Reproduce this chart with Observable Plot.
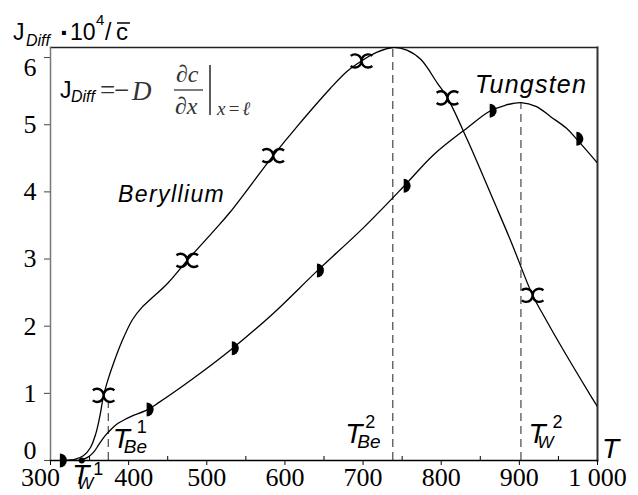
<!DOCTYPE html>
<html><head><meta charset="utf-8">
<script src="https://cdn.jsdelivr.net/npm/d3@7"></script>
<script src="https://cdn.jsdelivr.net/npm/@observablehq/plot@0.6"></script>
<style>html,body{margin:0;padding:0;background:#fff;}</style>
</head><body><div id="chart"></div>
<script>
// ---------- data ----------
const berylliumCurveT = [319,332,342,351,358,363,368,374,381,392,405,417,428,450,475,509,530,585,616,658,680,698,718,738,756,774,795,808,834,867,889,917,931,957,991,1000];
const berylliumCurveJ = [0.00,0.02,0.07,0.19,0.40,0.65,0.97,1.22,1.46,1.79,2.10,2.28,2.40,2.64,2.98,3.42,3.70,4.54,4.98,5.54,5.80,5.95,6.08,6.15,6.11,5.97,5.62,5.40,4.76,3.87,3.27,2.46,2.16,1.63,0.97,0.80];
const berylliumMarkT = [368,475,585,698,808,917];
const berylliumMarkJ = [0.97,2.98,4.54,5.95,5.40,2.46];

const tungstenCurveT = [312,325,340,348,355,362,370,378,386,395,404,423,437,479,532,585,641,700,752,790,834,862,882,902,922,940,960,973,1000];
const tungstenCurveJ = [0.00,0.00,0.01,0.05,0.12,0.24,0.37,0.47,0.55,0.61,0.66,0.75,0.85,1.19,1.66,2.19,2.82,3.46,4.08,4.55,4.96,5.20,5.29,5.33,5.27,5.12,4.95,4.79,4.43];
const tungstenMarkT = [312,423,532,641,752,862,973];
const tungstenMarkJ = [0.00,0.76,1.67,2.83,4.09,5.21,4.79];

const tBe1 = 374, tBe2 = 738, tW1 = 340, tW2 = 902;
const dashedT = [tBe1, tBe2, tW2];
const dashedTop = [0.85, 6.15, 5.33];

const xTicks = [300,400,500,600,700,800,900,1000];
const xTickLabels = ["300","400","500","600","700","800","900","1 000"];
const xMinorTicks = [350,450,550,650,750,850,950];
const yTicks = [0,1,2,3,4,5,6];
const yTickLabels = ["0","1","2","3","4","5","6"];
const xDomain = [300, 1000];
const yDomain = [0, 6.15];

// ---------- styles ----------
const SANS = "'Liberation Sans', Arial, sans-serif";
const SERIF = "'Liberation Serif', 'Times New Roman', serif";
const ns = "http://www.w3.org/2000/svg";
const W = 638, H = 495, M = {left: 50, right: 41, top: 47, bottom: 35};

// custom symbols
const doubleArc = {draw(ctx, size) {
  const r = Math.sqrt(size / Math.PI), a = Math.PI * 0.72;
  ctx.moveTo(-r + r * Math.cos(-a), r * Math.sin(-a));
  ctx.arc(-r, 0, r, -a, a, false);
  const b = Math.PI - a;
  ctx.moveTo(r + r * Math.cos(b), r * Math.sin(b));
  ctx.arc(r, 0, r, b, 2 * Math.PI - b, false);
}};
const halfDisc = {draw(ctx, size) {
  const r = Math.sqrt(size / Math.PI);
  ctx.moveTo(0, -r);
  ctx.arc(0, 0, r, -Math.PI / 2, Math.PI / 2, false);
  ctx.closePath();
}};

const marks = [
  Plot.frame({anchor: "top", stroke: "#222", strokeWidth: 1.3}),
  Plot.frame({anchor: "right", stroke: "#333", strokeWidth: 2}),
  Plot.ruleX(dashedT, {x: dashedT, y1: 0, y2: dashedTop, stroke: "#555", strokeWidth: 1.3, strokeDasharray: "8,5"}),
  Plot.line(berylliumCurveT, {x: berylliumCurveT, y: berylliumCurveJ, curve: "catmull-rom", stroke: "black", strokeWidth: 1.3, clip: true}),
  Plot.line(tungstenCurveT, {x: tungstenCurveT, y: tungstenCurveJ, curve: "catmull-rom", stroke: "black", strokeWidth: 1.3, clip: true}),
  Plot.dot(berylliumMarkT, {x: berylliumMarkT, y: berylliumMarkJ, symbol: doubleArc, r: 6.6, stroke: "black", strokeWidth: 2.4, fill: "none"}),
  Plot.dot(tungstenMarkT, {x: tungstenMarkT, y: tungstenMarkJ, symbol: halfDisc, r: 7, fill: "black", stroke: "none"}),
  Plot.dot([tW1], {x: d => d, y: () => 0, r: 3, fill: "black"}),
  Plot.axisY({ticks: yTicks, tickFormat: d => yTickLabels[yTicks.indexOf(d)], tickSize: 6, tickPadding: 8, fontSize: 26, fontFamily: SERIF, label: null, stroke: "#444"}),
  Plot.axisX({ticks: xTicks, tickFormat: d => xTickLabels[xTicks.indexOf(d)], tickSize: 5, tickPadding: 2, fontSize: 26, fontFamily: SERIF, label: null}),
  Plot.axisX({ticks: xMinorTicks, tickFormat: () => "", tickSize: 4, dy: -4, label: null}),
  Plot.frame({anchor: "left", stroke: "#777", strokeWidth: 1.5}),
  Plot.frame({anchor: "bottom", stroke: "black", strokeWidth: 1.5})
];

const chart = Plot.plot({
  width: W, height: H,
  marginLeft: M.left, marginRight: M.right, marginTop: M.top, marginBottom: M.bottom,
  x: {domain: xDomain}, y: {domain: yDomain},
  style: {background: "white", color: "black", overflow: "visible"},
  marks
});
document.getElementById("chart").append(chart);

// ---------- annotations (real SVG text, positioned with Plot's scales) ----------
const sx = chart.scale("x"), sy = chart.scale("y");
function anchorPos(a) {
  if (a.frame) {
    const [v, h] = a.frame.split("-");
    return [h === "left" ? M.left : W - M.right, v === "top" ? M.top : H - M.bottom];
  }
  return [sx.apply(a.x), sy.apply(a.y)];
}
function rich(anchor, pieces) {
  const [ax, ay] = anchorPos(anchor);
  const g = document.createElementNS(ns, "g");
  g.setAttribute("transform", `translate(${ax},${ay})`);
  for (const p of pieces) {
    let e;
    if (p.line) {
      e = document.createElementNS(ns, "line");
      e.setAttribute("x1", p.line[0]); e.setAttribute("y1", p.line[1]);
      e.setAttribute("x2", p.line[2]); e.setAttribute("y2", p.line[3]);
      e.setAttribute("stroke", p.stroke || "#000");
      e.setAttribute("stroke-width", p.w || 1.3);
    } else {
      e = document.createElementNS(ns, "text");
      e.setAttribute("x", p.x); e.setAttribute("y", p.y);
      e.setAttribute("text-anchor", "start");
      e.setAttribute("font-family", p.family || SANS);
      e.setAttribute("font-size", p.size);
      e.setAttribute("font-style", p.italic ? "italic" : "normal");
      e.setAttribute("font-weight", p.weight || "normal");
      e.setAttribute("fill", p.fill || "#000");
      if (p.spacing) e.setAttribute("letter-spacing", p.spacing);
      e.textContent = p.t;
    }
    g.appendChild(e);
  }
  chart.appendChild(g);
}
function tLabel(sub, sup, o) {
  return [
    {t: "T", x: o.x, y: o.y, size: 28, italic: true},
    {t: sub, x: o.x + o.sx, y: o.y + 5, size: o.subSize || 19, italic: true},
    {t: sup, x: o.x + o.px, y: o.y + o.py, size: 18}
  ];
}
const GRAY = "#333";
// y-axis title
rich({frame: "top-left"}, [
  {t: "J", x: -37, y: -7, size: 23},
  {t: "Diff", x: -24, y: -1, size: 16, italic: true},
  {t: "·", x: 10, y: -5, size: 28, weight: "bold"},
  {t: "10", x: 20, y: -7, size: 23},
  {t: "4", x: 46, y: -22, size: 15},
  {t: "/", x: 55, y: -7, size: 23},
  {t: "c", x: 66, y: -7, size: 24},
  {line: [67, -24, 80, -24], w: 1.5}
]);
// formula
rich({frame: "top-left"}, [
  {t: "J", x: 10, y: 51, size: 23},
  {t: "Diff", x: 21, y: 55, size: 16, italic: true},
  {t: "=", x: 50, y: 52, size: 27, family: SERIF, fill: GRAY},
  {t: "\u2212", x: 64, y: 52, size: 27, family: SERIF, fill: GRAY},
  {t: "D", x: 82, y: 53, size: 27, family: SERIF, italic: true, fill: GRAY},
  {t: "\u2202c", x: 126, y: 35, size: 24, family: SERIF, italic: true, fill: GRAY},
  {line: [124, 43, 153, 43], w: 1.3, stroke: GRAY},
  {t: "\u2202x", x: 125, y: 67, size: 24, family: SERIF, italic: true, fill: GRAY},
  {line: [160, 18, 160, 68], w: 1.6, stroke: GRAY},
  {t: "x=\u2113", x: 167, y: 68, size: 19, family: SERIF, italic: true, fill: GRAY, spacing: 2}
]);
// series names
rich({frame: "top-left"}, [{t: "Beryllium", x: 68, y: 155, size: 23, italic: true, spacing: 1.4}]);
rich({frame: "top-right"}, [{t: "Tungsten", x: -122, y: 46, size: 25, italic: true, spacing: 1.2}]);
// axis variable
rich({frame: "bottom-right"}, [{t: "T", x: 5, y: -2, size: 28, italic: true}]);
// characteristic temperatures
rich({x: tBe1, y: 0}, tLabel("Be", "1", {x: 5, y: -12, sx: 11, px: 24, py: -15}));
rich({x: tBe2, y: 0}, tLabel("Be", "2", {x: -47, y: -17, sx: 12, px: 20, py: -15}));
rich({x: tW2, y: 0}, tLabel("W", "2", {x: 8, y: -17, sx: 9, px: 24, py: -15, subSize: 17}));
rich({x: tW1, y: 0}, tLabel("W", "1", {x: -9, y: 24, sx: 5, px: 21, py: -9, subSize: 17}));

// nudge a few tick labels as in the original
function nudge(t, dx, dy) {
  t.setAttribute("transform", ((t.getAttribute("transform") || "") + ` translate(${dx},${dy})`).trim());
}
chart.querySelectorAll('g[aria-label="x-axis tick label"] text').forEach(t => {
  if (t.textContent === "300") nudge(t, -10, 0);
  if (t.textContent === "400") nudge(t, 5, 0);
});
chart.querySelectorAll('g[aria-label="y-axis tick label"] text').forEach(t => {
  if (t.textContent === "6") nudge(t, 0, 10);
  if (t.textContent === "0") nudge(t, 0, -10);
});
</script>
</body></html>
